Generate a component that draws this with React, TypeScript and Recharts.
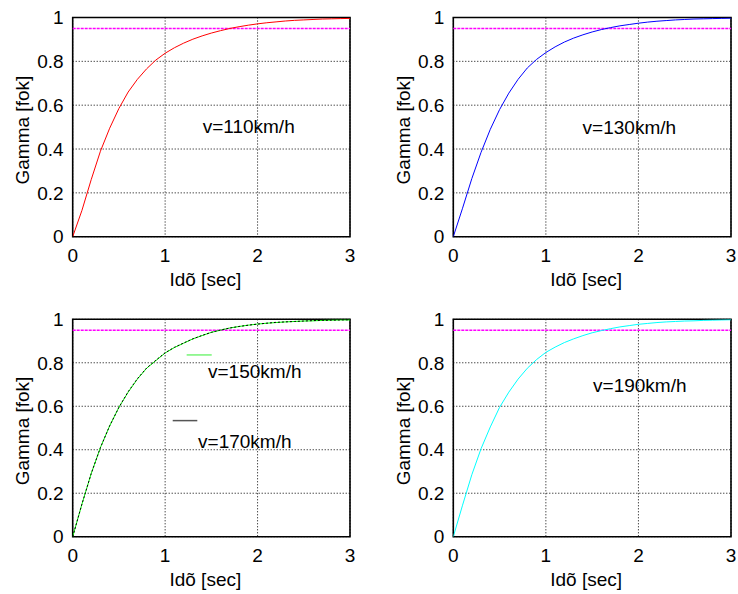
import React from "react";
import {
  LineChart,
  Line,
  XAxis,
  YAxis,
  CartesianGrid,
  ReferenceLine,
  ReferenceArea,
  ReferenceDot,
} from "recharts";

// time axis (sec) and step responses
const timeSec = [
  0, 0.1, 0.2, 0.3, 0.4, 0.5, 0.6, 0.7, 0.8, 0.9, 1.0, 1.1, 1.2, 1.3, 1.4, 1.5,
  1.6, 1.7, 1.8, 1.9, 2.0, 2.1, 2.2, 2.3, 2.4, 2.5, 2.6, 2.7, 2.8, 2.9, 3.0,
];

const gamma110 = [
  0, 0.12, 0.26, 0.39, 0.495, 0.585, 0.66, 0.718, 0.766, 0.806, 0.837, 0.862,
  0.883, 0.901, 0.916, 0.929, 0.94, 0.95, 0.958, 0.965, 0.971, 0.976, 0.98,
  0.984, 0.987, 0.989, 0.991, 0.993, 0.994, 0.995, 0.996,
];
const gamma130 = [
  0, 0.13, 0.265, 0.385, 0.49, 0.58, 0.655, 0.718, 0.77, 0.809, 0.84, 0.866,
  0.888, 0.906, 0.921, 0.934, 0.945, 0.954, 0.962, 0.968, 0.974, 0.979, 0.983,
  0.986, 0.989, 0.991, 0.993, 0.994, 0.995, 0.996, 0.997,
];
const gamma150 = [
  0, 0.15, 0.29, 0.41, 0.51, 0.595, 0.665, 0.725, 0.775, 0.81, 0.845, 0.87,
  0.89, 0.91, 0.925, 0.94, 0.95, 0.96, 0.967, 0.973, 0.978, 0.982, 0.985,
  0.988, 0.99, 0.992, 0.993, 0.995, 0.996, 0.997, 0.997,
];
const gamma170 = [
  0, 0.15, 0.29, 0.41, 0.51, 0.595, 0.667, 0.727, 0.776, 0.812, 0.846, 0.871,
  0.891, 0.91, 0.926, 0.94, 0.951, 0.96, 0.967, 0.973, 0.978, 0.982, 0.986,
  0.988, 0.99, 0.992, 0.994, 0.995, 0.996, 0.997, 0.998,
];
const gamma190 = [
  0, 0.145, 0.285, 0.405, 0.505, 0.595, 0.665, 0.725, 0.775, 0.815, 0.848,
  0.872, 0.893, 0.91, 0.925, 0.938, 0.948, 0.957, 0.965, 0.971, 0.977, 0.981,
  0.985, 0.988, 0.99, 0.992, 0.993, 0.995, 0.996, 0.997, 0.998,
];

const threshold = 0.95;
const xTicks = [0, 1, 2, 3];
const yTicks = [0, 0.2, 0.4, 0.6, 0.8, 1];

const FONT = "'Liberation Sans', Arial, sans-serif";
const FS = 19;

type Curve = { key: string; values: number[]; color: string; dash?: string };
type Note = { text: string; x: number; y: number };
type Seg = { x1: number; x2: number; y: number; color: string; w: number };
type Box = { x: number; y: number; w: number; h: number };
type Plot = { l: number; t: number; r: number; b: number };

type PanelProps = {
  box: Box;
  plot: Plot;
  curves: Curve[];
  notes: Note[];
  segs?: Seg[];
};

const Panel = ({ box, plot, curves, notes, segs = [] }: PanelProps) => {
  const data = timeSec.map((t, i) => {
    const row: any = { t };
    curves.forEach((c) => {
      row[c.key] = c.values[i];
    });
    return row;
  });

  const baseline = plot.b + 49; // x label baseline
  const yAxisWidth = plot.l - box.x;
  const yLabelDx = plot.l - 50 - (box.x + yAxisWidth / 2);

  return (
    <div style={{ position: "absolute", left: box.x, top: box.y }}>
      <LineChart
        width={box.w}
        height={box.h}
        data={data}
        margin={{
          top: plot.t - box.y,
          right: box.x + box.w - plot.r,
          left: 0,
          bottom: box.y + box.h - baseline,
        }}
      >
        <CartesianGrid stroke="#000" strokeDasharray="1 2" strokeWidth={1} />
        <XAxis
          dataKey="t"
          type="number"
          domain={[0, 3]}
          ticks={xTicks}
          allowDataOverflow
          height={baseline - plot.b}
          tickSize={0}
          tickMargin={12}
          axisLine={false}
          tick={{ fill: "#000", fontSize: FS }}
          label={{
            value: "Idõ [sec]",
            position: "insideBottom",
            offset: 0,
            dx: -6,
            fill: "#000",
            fontSize: FS,
          }}
        />
        <YAxis
          type="number"
          domain={[0, 1]}
          ticks={yTicks}
          allowDataOverflow
          width={yAxisWidth}
          tickSize={0}
          tickMargin={9}
          axisLine={false}
          tick={{ fill: "#000", fontSize: FS }}
          label={{
            value: "Gamma [fok]",
            angle: -90,
            position: "center",
            dx: yLabelDx,
            dy: 3,
            fill: "#000",
            fontSize: FS,
          }}
        />
        <ReferenceLine
          y={threshold}
          stroke="#ff00ff"
          strokeWidth={1.5}
          strokeDasharray="3 1"
        />
        {curves.map((c) => (
          <Line
            key={c.key}
            dataKey={c.key}
            type="linear"
            stroke={c.color}
            strokeWidth={1}
            strokeDasharray={c.dash}
            dot={false}
            activeDot={false}
            isAnimationActive={false}
          />
        ))}
        {segs.map((s, i) => (
          <ReferenceLine
            key={"s" + i}
            segment={[
              { x: s.x1, y: s.y },
              { x: s.x2, y: s.y },
            ]}
            stroke={s.color}
            strokeWidth={s.w}
          />
        ))}
        {notes.map((n, i) => (
          <ReferenceDot
            key={"n" + i}
            x={n.x}
            y={n.y}
            r={0}
            fill="none"
            stroke="none"
            label={{
              value: n.text,
              position: "right",
              offset: 0,
              fill: "#000",
              fontSize: FS,
            }}
          />
        ))}
        <ReferenceArea
          x1={0}
          x2={3}
          y1={0}
          y2={1}
          fill="none"
          stroke="#000"
          strokeWidth={1.6}
        />
      </LineChart>
    </div>
  );
};

export default function App() {
  return (
    <div
      style={{
        position: "absolute",
        left: 0,
        top: 0,
        width: 738,
        height: 594,
        background: "#fff",
        fontFamily: FONT,
      }}
    >
      <Panel
        box={{ x: 0, y: 0, w: 370, h: 300 }}
        plot={{ l: 72.7, t: 17.5, r: 350, b: 236.7 }}
        curves={[{ key: "v110", values: gamma110, color: "#ff0000" }]}
        notes={[{ text: "v=110km/h", x: 1.406, y: 0.502 }]}
      />
      <Panel
        box={{ x: 380, y: 0, w: 358, h: 300 }}
        plot={{ l: 453.3, t: 17.5, r: 731, b: 236.7 }}
        curves={[{ key: "v130", values: gamma130, color: "#0000ff" }]}
        notes={[{ text: "v=130km/h", x: 1.397, y: 0.5 }]}
      />
      <Panel
        box={{ x: 0, y: 300, w: 370, h: 294 }}
        plot={{ l: 72.7, t: 319.3, r: 350, b: 536.7 }}
        curves={[
          { key: "v150", values: gamma150, color: "#00ff00" },
          { key: "v170", values: gamma170, color: "#000000", dash: "2 2" },
        ]}
        notes={[
          { text: "v=150km/h", x: 1.464, y: 0.759 },
          { text: "v=170km/h", x: 1.356, y: 0.437 },
        ]}
        segs={[
          { x1: 1.233, x2: 1.504, y: 0.836, color: "#33ee33", w: 1 },
          { x1: 1.082, x2: 1.348, y: 0.534, color: "#555555", w: 1.5 },
        ]}
      />
      <Panel
        box={{ x: 380, y: 300, w: 358, h: 294 }}
        plot={{ l: 453.3, t: 319.3, r: 731, b: 536.7 }}
        curves={[{ key: "v190", values: gamma190, color: "#00ffff" }]}
        notes={[{ text: "v=190km/h", x: 1.51, y: 0.698 }]}
      />
    </div>
  );
}
